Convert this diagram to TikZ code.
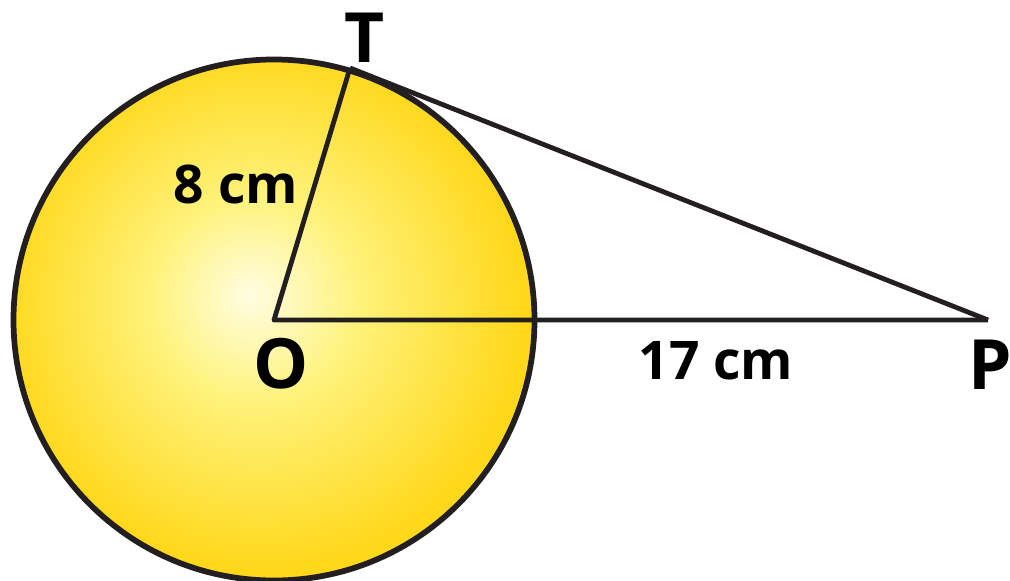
\documentclass[tikz,border=0pt]{standalone}
\usepackage{fontspec}
\setmainfont{Open Sans}
\definecolor{cin}{HTML}{FFFDE2}
\definecolor{cmid}{HTML}{FFF27A}
\definecolor{cout}{HTML}{FFD81C}
\definecolor{ink}{HTML}{231F20}
\pgfdeclareradialshading{glow}{\pgfpoint{-2.3bp}{2.4bp}}{color(0bp)=(cin); color(10bp)=(cmid); color(25bp)=(cout); color(50bp)=(cout)}
\begin{document}
\begin{tikzpicture}[x=0.75pt,y=-0.75pt,
  seg/.style={draw=ink,line width=3.6pt,line join=round},
  rim/.style={draw=ink,line width=4.3pt},
  ptlabel/.style={font=\fontsize{52}{60}\selectfont\bfseries,text=black,inner sep=0pt},
  lenlabel/.style={font=\fontsize{40}{48}\selectfont\bfseries,text=black,inner sep=0pt}]
\useasboundingbox (0,0) rectangle (1010,581);
\coordinate (O) at (274,320);
\coordinate (T) at (350,68);
\coordinate (P) at (988,320);
\shade[shading=glow] (O) circle[radius=260.5];
\draw[seg] (T) -- (O) -- (P);
\draw[seg] (T) -- (P);
\draw[rim] (O) circle[radius=260.5];
\node[ptlabel] (tl) at (365,38) {T};
\node[ptlabel] (ol) at (281,364) {O};
\node[ptlabel] (pl) at (990,365) {P};
\node[lenlabel] (l8) at (236,184) {8 cm};
\node[lenlabel] (l17) at (716,361) {17 cm};
\end{tikzpicture}
\end{document}
